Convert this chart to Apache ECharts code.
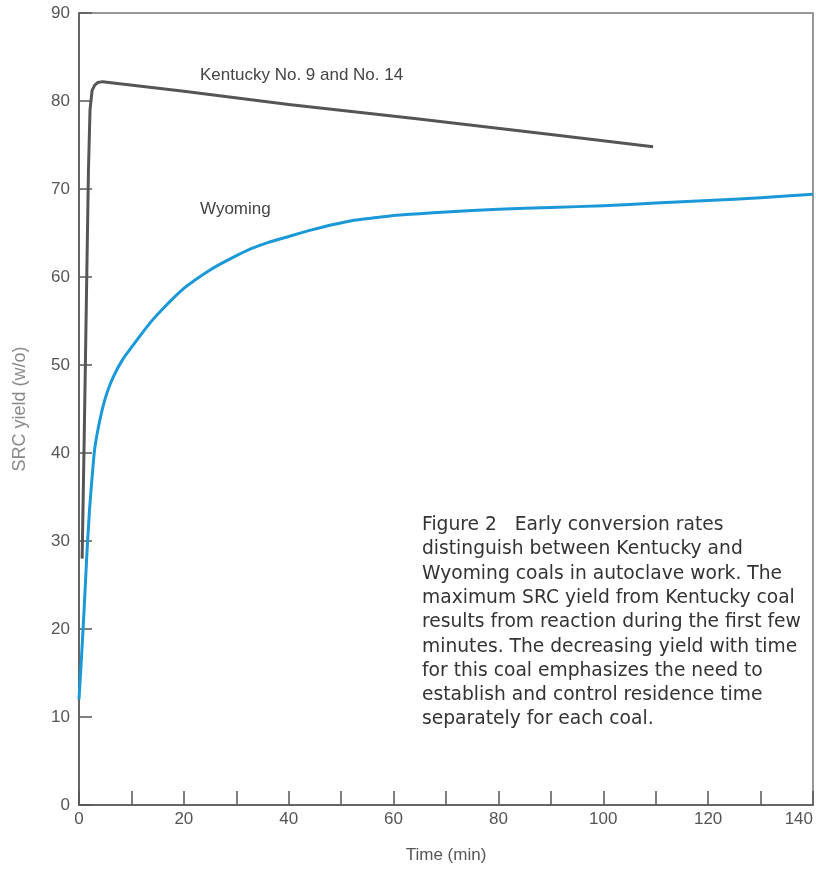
<!DOCTYPE html>
<html>
<head>
<meta charset="utf-8">
<style>html,body{margin:0;padding:0;background:#fff;}#c{width:816px;height:869px;}</style>
<script src="https://cdn.jsdelivr.net/npm/echarts@6/dist/echarts.min.js"></script>
</head>
<body>
<div id="c"></div>
<script>
// Data
const kentuckyTime  = [0.6, 1.0, 1.4, 1.8, 2.1, 2.5, 3.0, 3.6, 4.5, 20, 40, 64, 90, 109.5];
const kentuckyYield = [28, 42, 57, 72, 79, 81.2, 81.8, 82.1, 82.2, 81.1, 79.6, 78.0, 76.2, 74.8];
const wyomingTime  = [0, 0.5, 1, 1.5, 2, 2.5, 3, 4, 5, 6, 7, 8, 9, 10, 12, 14, 16, 18, 20, 22, 25, 28, 32, 36, 40, 44, 48, 52, 56, 60, 65, 70, 80, 90, 100, 110, 120, 130, 140];
const wyomingYield = [12, 17, 22.5, 28.5, 33.5, 37.3, 40.5, 43.8, 46.2, 47.9, 49.2, 50.3, 51.2, 52.0, 53.6, 55.1, 56.4, 57.6, 58.7, 59.6, 60.8, 61.8, 63.0, 63.9, 64.6, 65.3, 65.9, 66.4, 66.7, 67.0, 67.2, 67.4, 67.7, 67.9, 68.1, 68.4, 68.7, 69.0, 69.4];
const seriesNames = ['Kentucky No. 9 and No. 14', 'Wyoming'];
const captionLines = [
  'Figure 2   Early conversion rates',
  'distinguish between Kentucky and',
  'Wyoming coals in autoclave work. The',
  'maximum SRC yield from Kentucky coal',
  'results from reaction during the first few',
  'minutes. The decreasing yield with time',
  'for this coal emphasizes the need to',
  'establish and control residence time',
  'separately for each coal.'
];

const chart = echarts.init(document.getElementById('c'));
const pair = (xs, ys) => xs.map((x, i) => [x, ys[i]]);
const font = 'Liberation Sans, Arial, sans-serif';

chart.setOption({
  animation: false,
  backgroundColor: '#fff',
  grid: { left: 79, right: 3, top: 13, bottom: 57, show: true, borderColor: '#777', borderWidth: 1.5, backgroundColor: 'transparent' },
  xAxis: {
    type: 'value', min: 0, max: 140, interval: 10,
    name: 'Time (min)', nameLocation: 'middle', nameGap: 42,
    nameTextStyle: { fontFamily: font, fontSize: 17, color: '#555' },
    axisLine: { lineStyle: { color: '#555', width: 1.5 } },
    axisTick: { inside: true, length: 14, lineStyle: { color: '#555', width: 1.5 } },
    axisLabel: { fontFamily: font, fontSize: 17, color: '#555', margin: 6, alignMaxLabel: 'right',
      formatter: v => (v % 20 === 0 ? String(v) : '') },
    splitLine: { show: false }
  },
  yAxis: {
    type: 'value', min: 0, max: 90, interval: 10,
    name: 'SRC yield (w/o)', nameLocation: 'middle', nameGap: 50,
    nameTextStyle: { fontFamily: font, fontSize: 18, color: '#8a8a8a' },
    axisLine: { show: true, lineStyle: { color: '#555', width: 1.5 } },
    axisTick: { show: true, inside: true, length: 13, lineStyle: { color: '#555', width: 1.5 } },
    axisLabel: { fontFamily: font, fontSize: 17, color: '#555', margin: 9 },
    splitLine: { show: false }
  },
  series: [
    {
      name: seriesNames[0], type: 'line', data: pair(kentuckyTime, kentuckyYield),
      showSymbol: false, smooth: false,
      lineStyle: { color: '#555', width: 3, join: 'round' }, z: 3
    },
    {
      name: seriesNames[1], type: 'line', data: pair(wyomingTime, wyomingYield),
      showSymbol: false, smooth: 0.15,
      lineStyle: { color: '#1a98d8', width: 3, join: 'round' }, z: 4
    }
  ],
  graphic: [
    { type: 'text', left: 200, top: 67, style: { text: seriesNames[0], font: '17px ' + font, fill: '#444' } },
    { type: 'text', left: 200, top: 201, style: { text: seriesNames[1], font: '17px ' + font, fill: '#444' } },
    { type: 'text', left: 422, top: 513, style: { text: captionLines.join('\n'), font: '18.7px DejaVu Sans, sans-serif', lineHeight: 24.3, fill: '#333' } }
  ]
});
</script>
</body>
</html>
